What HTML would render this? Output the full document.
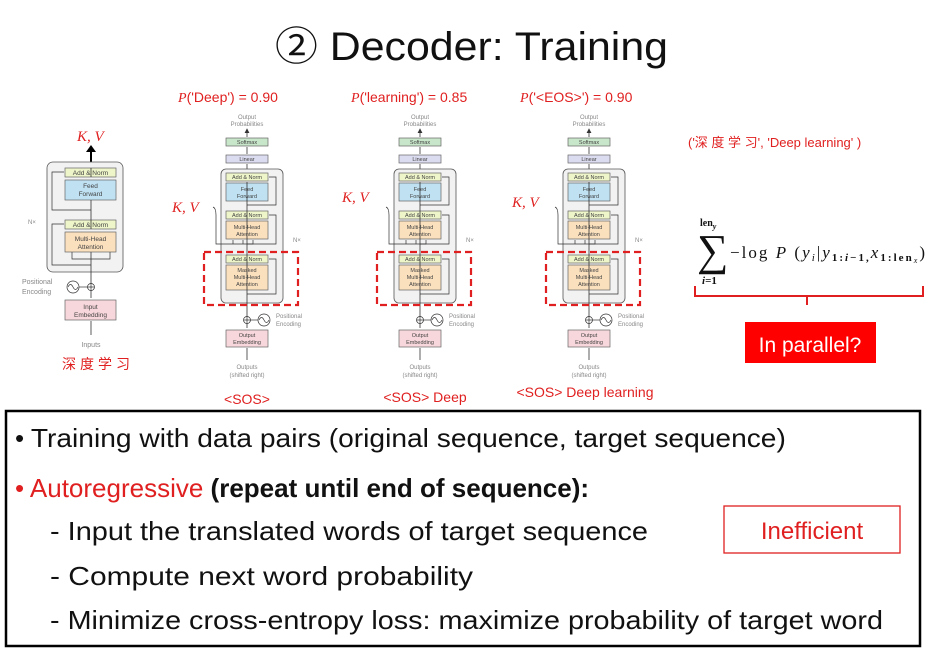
<!DOCTYPE html>
<html><head><meta charset="utf-8"><style>
html,body{margin:0;padding:0;background:#fff;}
svg{display:block;}
text{font-family:"Liberation Sans","Noto Sans CJK SC",sans-serif;}
.serif,.serif tspan{font-family:"Liberation Serif",serif;}
</style></head><body>
<svg width="931" height="652" viewBox="0 0 931 652" xmlns="http://www.w3.org/2000/svg">
<defs>
<marker id="ah" markerWidth="6" markerHeight="6" refX="5" refY="3" orient="auto"><path d="M0,0 L6,3 L0,6 z" fill="#333"/></marker>
<g id="dec">
  <text x="247" y="119" font-size="6" fill="#888" text-anchor="middle">Output</text>
  <text x="247" y="126" font-size="6" fill="#888" text-anchor="middle">Probabilities</text>
  <line x1="247" y1="137" x2="247" y2="129" stroke="#333" stroke-width="0.8" marker-end="url(#ah)"/>
  <rect x="226" y="138" width="42" height="8" fill="#c8e6c9" stroke="#666" stroke-width="0.7"/>
  <text x="247" y="144" font-size="5.5" text-anchor="middle" fill="#444">Softmax</text>
  <line x1="247" y1="154" x2="247" y2="147" stroke="#333" stroke-width="0.8"/>
  <rect x="226" y="155" width="42" height="8" fill="#dcdcf0" stroke="#666" stroke-width="0.7"/>
  <text x="247" y="161" font-size="5.5" text-anchor="middle" fill="#444">Linear</text>
  <line x1="247" y1="172" x2="247" y2="164" stroke="#333" stroke-width="0.8"/>
  <rect x="221" y="169" width="62" height="134" rx="5" fill="#f2f2f2" stroke="#555" stroke-width="0.8"/>
  <rect x="226" y="173" width="42" height="8" fill="#eef5c8" stroke="#666" stroke-width="0.7"/>
  <text x="247" y="179" font-size="5.5" text-anchor="middle" fill="#444">Add &amp; Norm</text>
  <rect x="226" y="183" width="42" height="18" fill="#bfe1f2" stroke="#666" stroke-width="0.7"/>
  <text x="247" y="191" font-size="5.5" text-anchor="middle" fill="#444">Feed</text>
  <text x="247" y="198" font-size="5.5" text-anchor="middle" fill="#444">Forward</text>
  <rect x="226" y="211" width="42" height="8" fill="#eef5c8" stroke="#666" stroke-width="0.7"/>
  <text x="247" y="217" font-size="5.5" text-anchor="middle" fill="#444">Add &amp; Norm</text>
  <rect x="226" y="221" width="42" height="18" fill="#fbe0bd" stroke="#666" stroke-width="0.7"/>
  <text x="247" y="229" font-size="5.5" text-anchor="middle" fill="#444">Multi-Head</text>
  <text x="247" y="236" font-size="5.5" text-anchor="middle" fill="#444">Attention</text>
  <rect x="226" y="255" width="42" height="8" fill="#eef5c8" stroke="#666" stroke-width="0.7"/>
  <text x="247" y="261" font-size="5.5" text-anchor="middle" fill="#444">Add &amp; Norm</text>
  <rect x="226" y="265" width="42" height="25" fill="#fbe0bd" stroke="#666" stroke-width="0.7"/>
  <text x="247" y="272" font-size="5.5" text-anchor="middle" fill="#444">Masked</text>
  <text x="247" y="279" font-size="5.5" text-anchor="middle" fill="#444">Multi-Head</text>
  <text x="247" y="286" font-size="5.5" text-anchor="middle" fill="#444">Attention</text>
  <path d="M247,328 V182 M247,201 V211 M247,239 V244 M247,263 V265" stroke="#333" stroke-width="0.8" fill="none"/>
  <path d="M247,205 H276 V177 H269 M247,244 H276 V215 H269 M247,294 H276 V259 H269" stroke="#333" stroke-width="0.7" fill="none"/>
  <path d="M213,207 Q216,208 216,215 V244 H253 V240 M233,244 V240 M243,244 V240" stroke="#333" stroke-width="0.7" fill="none"/>
  <text x="293" y="242" font-size="6" fill="#888">N×</text>
  <rect x="204" y="252" width="94" height="53" fill="none" stroke="#e02020" stroke-width="2.2" stroke-dasharray="7,4"/>
  <circle cx="247" cy="320" r="3.5" fill="#fff" stroke="#333" stroke-width="0.7"/>
  <path d="M243.5,320 H250.5 M247,316.5 V323.5" stroke="#333" stroke-width="0.7"/>
  <line x1="250.5" y1="320" x2="258" y2="320" stroke="#333" stroke-width="0.7"/>
  <circle cx="264" cy="320" r="6" fill="#fff" stroke="#333" stroke-width="0.7"/>
  <path d="M259,320 Q261.5,315 264,320 T269,320" stroke="#333" stroke-width="0.7" fill="none"/>
  <text x="276" y="318" font-size="6" fill="#888">Positional</text>
  <text x="276" y="326" font-size="6" fill="#888">Encoding</text>
  <rect x="226" y="330" width="42" height="17" fill="#f8d7dc" stroke="#666" stroke-width="0.7"/>
  <text x="247" y="337" font-size="5.5" text-anchor="middle" fill="#444">Output</text>
  <text x="247" y="344" font-size="5.5" text-anchor="middle" fill="#444">Embedding</text>
  <line x1="247" y1="360" x2="247" y2="348" stroke="#333" stroke-width="0.8"/>
  <text x="247" y="369" font-size="6" fill="#888" text-anchor="middle">Outputs</text>
  <text x="247" y="377" font-size="6" fill="#888" text-anchor="middle">(shifted right)</text>
</g>
</defs>

<text x="275" y="60" font-size="40" fill="#111" textLength="393" lengthAdjust="spacingAndGlyphs">② Decoder: Training</text>

<!-- encoder -->
<text class="serif" x="77" y="141" font-size="15" font-style="italic" fill="#e02020">K, V</text>
<line x1="91" y1="163" x2="91" y2="151" stroke="#000" stroke-width="2"/>
<path d="M86,152 L91,145 L96,152 z" fill="#000"/>
<rect x="47" y="162" width="76" height="110" rx="6" fill="#f2f2f2" stroke="#555" stroke-width="0.8"/>
<rect x="65" y="168" width="51" height="9" fill="#eef5c8" stroke="#666" stroke-width="0.7"/>
<text x="90.5" y="175" font-size="6.5" text-anchor="middle" fill="#444">Add &amp; Norm</text>
<rect x="65" y="180" width="51" height="20" fill="#bfe1f2" stroke="#666" stroke-width="0.7"/>
<text x="90.5" y="188" font-size="6.5" text-anchor="middle" fill="#444">Feed</text>
<text x="90.5" y="196" font-size="6.5" text-anchor="middle" fill="#444">Forward</text>
<rect x="65" y="220" width="51" height="9" fill="#eef5c8" stroke="#666" stroke-width="0.7"/>
<text x="90.5" y="227" font-size="6.5" text-anchor="middle" fill="#444">Add &amp; Norm</text>
<rect x="65" y="232" width="51" height="20" fill="#fbe0bd" stroke="#666" stroke-width="0.7"/>
<text x="90.5" y="241" font-size="6.5" text-anchor="middle" fill="#444">Multi-Head</text>
<text x="90.5" y="249" font-size="6.5" text-anchor="middle" fill="#444">Attention</text>
<path d="M91,298 V252 M91,229 V200 M91,177 V168" stroke="#333" stroke-width="0.8"/>
<path d="M91,210 H52 V172 H64 M91,265 H52 V224 H64 M72,252 V259 H110 V252" stroke="#333" stroke-width="0.7" fill="none"/>
<text x="28" y="224" font-size="6" fill="#888">N×</text>
<circle cx="91" cy="287" r="3.5" fill="#fff" stroke="#333" stroke-width="0.7"/>
<path d="M87.5,287 H94.5 M91,283.5 V290.5" stroke="#333" stroke-width="0.7"/>
<line x1="79" y1="287" x2="87.5" y2="287" stroke="#333" stroke-width="0.7"/>
<circle cx="73" cy="287" r="6" fill="#fff" stroke="#333" stroke-width="0.7"/>
<path d="M68,287 Q70.5,282 73,287 T78,287" stroke="#333" stroke-width="0.7" fill="none"/>
<text x="22" y="284" font-size="7" fill="#888">Positional</text>
<text x="22" y="294" font-size="7" fill="#888">Encoding</text>
<rect x="65" y="300" width="51" height="20" fill="#f8d7dc" stroke="#666" stroke-width="0.7"/>
<text x="90.5" y="309" font-size="6.5" text-anchor="middle" fill="#444">Input</text>
<text x="90.5" y="317" font-size="6.5" text-anchor="middle" fill="#444">Embedding</text>
<line x1="91" y1="335" x2="91" y2="321" stroke="#333" stroke-width="0.8"/>
<text x="91" y="347" font-size="7" fill="#888" text-anchor="middle">Inputs</text>
<text x="98" y="369" font-size="14" fill="#e02020" text-anchor="middle" letter-spacing="4">深度学习</text>

<!-- decoders -->
<use href="#dec"/>
<use href="#dec" transform="translate(173,0)"/>
<use href="#dec" transform="translate(342,0)"/>

<g font-size="14" fill="#e02020">
<text x="178" y="102"><tspan class="serif" font-style="italic">P</tspan>('Deep') = 0.90</text>
<text x="351" y="102"><tspan class="serif" font-style="italic">P</tspan>('learning') = 0.85</text>
<text x="520" y="102"><tspan class="serif" font-style="italic">P</tspan>('&lt;EOS&gt;') = 0.90</text>
<text class="serif" x="172" y="212" font-size="15" font-style="italic">K, V</text>
<text class="serif" x="342" y="202" font-size="15" font-style="italic">K, V</text>
<text class="serif" x="512" y="207" font-size="15" font-style="italic">K, V</text>
<text x="247" y="404" text-anchor="middle">&lt;SOS&gt;</text>
<text x="425" y="402" text-anchor="middle">&lt;SOS&gt; Deep</text>
<text x="585" y="397" text-anchor="middle">&lt;SOS&gt; Deep learning</text>
<text x="688" y="147" font-size="13">('深 度 学 习', 'Deep learning' )</text>
</g>

<!-- formula -->
<g class="serif" fill="#111">
<text class="serif" x="700" y="226" font-size="10" font-weight="bold">len<tspan font-size="8" dy="3" font-style="italic">y</tspan></text>
<text class="serif" x="697" y="265" font-size="44">∑</text>
<text class="serif" x="702" y="284" font-size="11" font-weight="bold"><tspan font-style="italic">i</tspan>=1</text>
<text class="serif" x="730" y="258" font-size="17" textLength="195" lengthAdjust="spacing">−log <tspan font-style="italic">P</tspan>  (<tspan font-style="italic">y</tspan><tspan font-size="11" dy="3" font-style="italic">i</tspan><tspan dy="-3">|</tspan><tspan font-style="italic">y</tspan><tspan font-size="11" dy="3" font-weight="bold">1:<tspan font-style="italic">i</tspan>−1,</tspan><tspan dy="-3" font-style="italic">x</tspan><tspan font-size="11" dy="3" font-weight="bold">1:len</tspan><tspan font-size="8" font-style="italic" dy="2">x</tspan><tspan dy="-5">)</tspan></text>
</g>
<path d="M695,286 V296 H807 V305 M807,296 H923 V286" stroke="#e02020" stroke-width="2" fill="none"/>
<rect x="745" y="322" width="131" height="41" fill="#ff0000"/>
<text x="810" y="352" font-size="21" fill="#fff" text-anchor="middle">In parallel?</text>

<!-- bottom box -->
<rect x="6" y="411" width="914" height="235" fill="#fff" stroke="#000" stroke-width="2.5"/>
<g font-size="26" fill="#111">
<text x="15" y="447">• <tspan textLength="755" lengthAdjust="spacingAndGlyphs">Training with data pairs (original sequence, target sequence)</tspan></text>
<text x="15" y="497"><tspan fill="#e02020">• Autoregressive</tspan> <tspan font-weight="bold">(repeat until end of sequence):</tspan></text>
<text x="50" y="540" textLength="598" lengthAdjust="spacingAndGlyphs">- Input the translated words of target sequence</text>
<text x="50" y="585" textLength="423" lengthAdjust="spacingAndGlyphs">- Compute next word probability</text>
<text x="50" y="629" textLength="833" lengthAdjust="spacingAndGlyphs">- Minimize cross-entropy loss: maximize probability of target word</text>
</g>
<rect x="724" y="506" width="176" height="47" fill="#fff" stroke="#e02020" stroke-width="1.3"/>
<text x="812" y="539" font-size="24" fill="#e02020" text-anchor="middle">Inefficient</text>
</svg>
</body></html>
